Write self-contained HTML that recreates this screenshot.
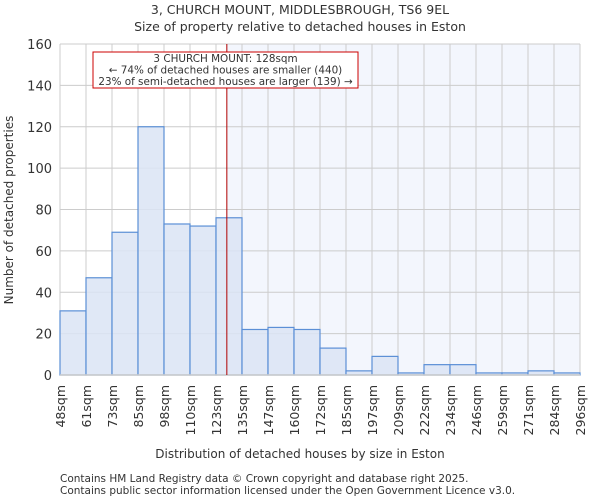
<!DOCTYPE html>
<html><head><meta charset="utf-8"><style>
body{margin:0;background:#fff;font-family:"DejaVu Sans","Liberation Sans",sans-serif}
svg text{font-family:"DejaVu Sans","Liberation Sans",sans-serif;fill:#333}
</style></head><body>
<svg width="600" height="500">
<text x="300" y="14" text-anchor="middle" font-size="12.5">3, CHURCH MOUNT, MIDDLESBROUGH, TS6 9EL</text>
<text x="300" y="31" text-anchor="middle" font-size="12.5">Size of property relative to detached houses in Eston</text>
<g id="plot"></g>
<text x="300" y="458" text-anchor="middle" font-size="12">Distribution of detached houses by size in Eston</text>
<text transform="translate(13,210) rotate(-90)" text-anchor="middle" font-size="12">Number of detached properties</text>
<text x="60" y="482" font-size="10.5">Contains HM Land Registry data © Crown copyright and database right 2025.</text>
<text x="60" y="494" font-size="10.5">Contains public sector information licensed under the Open Government Licence v3.0.</text>
</svg>
<script>
const categories=["48sqm","61sqm","73sqm","85sqm","98sqm","110sqm","123sqm","135sqm","147sqm","160sqm","172sqm","185sqm","197sqm","209sqm","222sqm","234sqm","246sqm","259sqm","271sqm","284sqm","296sqm"];
const values=[31,47,69,120,73,72,76,22,23,22,13,2,9,1,5,5,1,1,2,1];
const yTicks=[0,20,40,60,80,100,120,140,160];
const marker=128;
const binEdges=[48,61,73,85,98,110,123,135,147,160,172,185,197,209,222,234,246,259,271,284,296];
const NS="http://www.w3.org/2000/svg";
const g=document.getElementById('plot');
const x0=60,x1=580,y0=375,yTop=44;
const xs=i=>x0+i*(x1-x0)/(categories.length-1);
const ys=v=>y0-v*(y0-yTop)/160;
function mk(t,a){const e=document.createElementNS(NS,t);for(const k in a)e.setAttribute(k,a[k]);g.appendChild(e);return e;}
function xVal(v){for(let i=0;i<binEdges.length-1;i++){if(v>=binEdges[i]&&v<=binEdges[i+1])return xs(i)+(v-binEdges[i])/(binEdges[i+1]-binEdges[i])*(xs(i+1)-xs(i));}return x1;}
const mx=xVal(marker);
let e=mk('rect',{x:mx,y:yTop,width:x1-mx,height:y0-yTop,fill:'#f3f6fd'});


yTicks.forEach(t=>{
 let l=mk('line',{x1:x0,x2:x1,y1:ys(t),y2:ys(t),stroke:'#cccccc'});
 
 
 let tx=mk('text',{x:x0-8,y:ys(t)+5,'text-anchor':'end','font-size':'13'});tx.textContent=t;
 
 
});
categories.forEach((c,i)=>{
 let l=mk('line',{x1:xs(i),x2:xs(i),y1:yTop,y2:y0,stroke:'#cccccc'});
 
 
 let tx=mk('text',{transform:`translate(${xs(i)+5},${y0+10}) rotate(-90)`,'text-anchor':'end','font-size':'12.5'});tx.textContent=c;
 
 
});
values.forEach((v,i)=>{
 let r=mk('rect',{x:xs(i),y:ys(v),width:xs(i+1)-xs(i),height:y0-ys(v),fill:'#dae4f4',stroke:'#5b8fd6','stroke-width':'1.2','fill-opacity':'0.85'});
 
 
});
let ax=mk('line',{x1:x0,x2:x1,y1:y0,y2:y0,stroke:'#cccccc','stroke-width':'1.5'});


let ml=mk('line',{x1:mx,x2:mx,y1:yTop,y2:y0,stroke:'#b00000','stroke-width':'1'});


let box=mk('rect',{x:93,y:52,width:265,height:36,fill:'#fff',stroke:'#cc0000','stroke-width':'1'});


["3 CHURCH MOUNT: 128sqm","← 74% of detached houses are smaller (440)","23% of semi-detached houses are larger (139) →"].forEach((s,i)=>{
 let t=mk('text',{x:225.5,y:62+i*11.5,'text-anchor':'middle','font-size':'10.4'});t.textContent=s;
 
 
});
</script>
</body></html>
